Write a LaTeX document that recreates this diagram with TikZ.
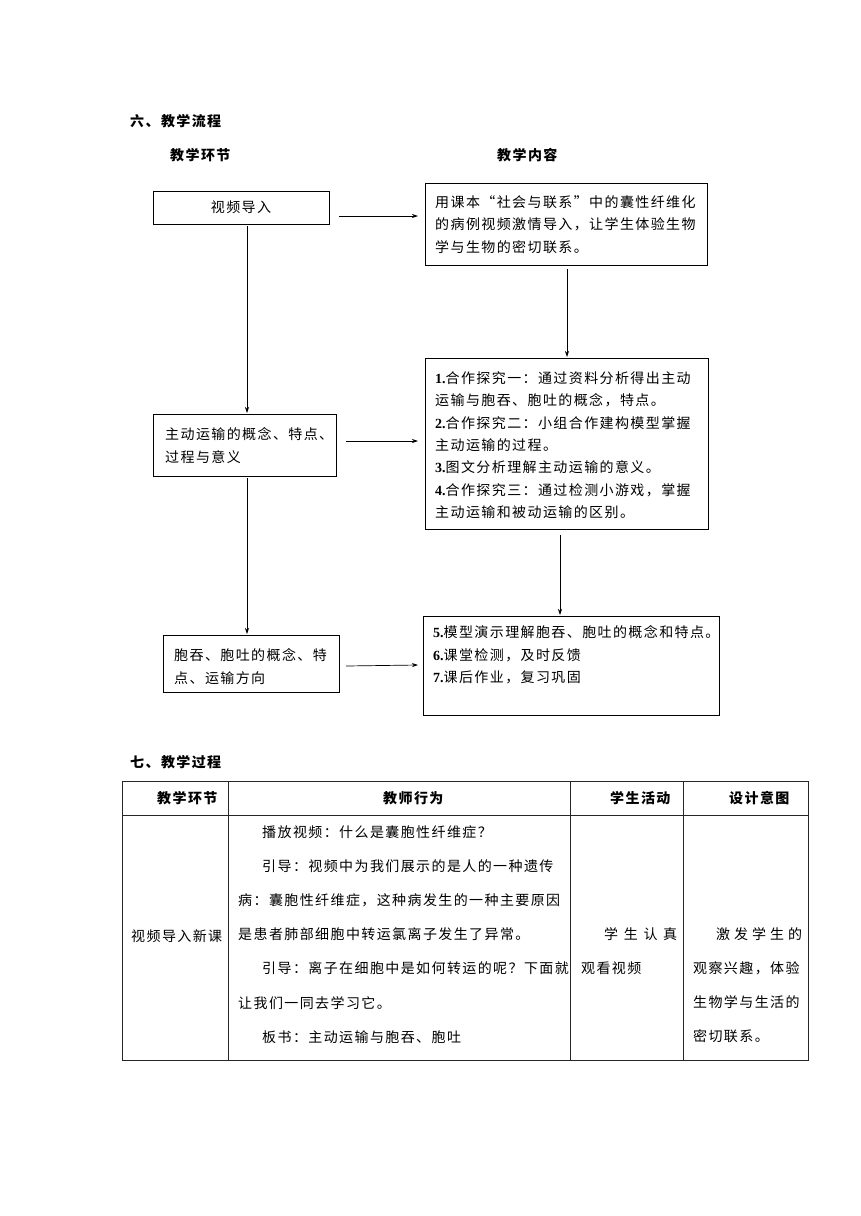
\documentclass[tikz,border=0pt]{standalone}
\usepackage{fontspec}
\setmainfont{Liberation Serif}
\newfontfamily\cjk[LetterSpace=10]{Noto Sans CJK SC}
\newfontfamily\tnr{Liberation Serif}
\newcommand\nb[1]{{\tnr\bfseries #1}}
\usetikzlibrary{arrows.meta}
\begin{document}
\begin{tikzpicture}[x=1pt,y=-1pt,
  font=\cjk\fontsize{14}{22.3}\selectfont,
  box/.style={draw=black, line width=1pt, anchor=north west, inner sep=0pt, outer sep=0pt},
  txt/.style={anchor=north west, inner sep=0pt, align=left},
  lbl/.style={anchor=west, inner sep=0pt},
  arr/.style={-{Stealth[length=6pt,width=4pt]}, line width=0.7pt},
  grid/.style={line width=0.9pt, draw=black!85}]
\useasboundingbox[fill=white] (0,0) rectangle (860,1216);

% ---- titles
\node[lbl] (t1) at (130,121) {\bfseries 六、教学流程};
\node[lbl] (h1) at (170,155) {\bfseries 教学环节};
\node[lbl] (h2) at (497,155) {\bfseries 教学内容};

% ---- boxes
\node[box, minimum width=176pt, minimum height=33pt] (b1) at (153,191) {};
\node (b1t) at (b1.center) {视频导入};

\node[box, minimum width=282pt, minimum height=82pt] (b2) at (425,183) {};
\node[txt] (b2t) at (435,195.5) {用课本“社会与联系”中的囊性纤维化\\的病例视频激情导入，让学生体验生物\\学与生物的密切联系。};

\node[box, minimum width=283pt, minimum height=171pt] (b3) at (425,358) {};
\node[txt] (b3t) at (435,371.5) {\nb{1.}合作探究一：通过资料分析得出主动\\运输与胞吞、胞吐的概念，特点。\\\nb{2.}合作探究二：小组合作建构模型掌握\\主动运输的过程。\\\nb{3.}图文分析理解主动运输的意义。\\\nb{4.}合作探究三：通过检测小游戏，掌握\\主动运输和被动运输的区别。};

\node[box, minimum width=183pt, minimum height=62pt] (b4) at (153,414) {};
\node[txt] (b4t) at (165,427.5) {主动运输的概念、特点、\\过程与意义};

\node[box, minimum width=176pt, minimum height=57pt] (b5) at (163,635) {};
\node[txt] (b5t) at (174,648.5) {胞吞、胞吐的概念、特\\点、运输方向};

\node[box, minimum width=296pt, minimum height=99pt] (b6) at (423,616) {};
\node[txt] (b6t) at (433,625.5) {\nb{5.}模型演示理解胞吞、胞吐的概念和特点。\\\nb{6.}课堂检测，及时反馈\\\nb{7.}课后作业，复习巩固};

% ---- connector end points
\coordinate (a1s) at (339,216); \coordinate (a1e) at (418,216);
\coordinate (a2s) at (567,269); \coordinate (a2e) at (567,357);
\coordinate (a3s) at (247,226); \coordinate (a3e) at (247,413);
\coordinate (a4s) at (346,441); \coordinate (a4e) at (418,441);
\coordinate (a5s) at (247,478); \coordinate (a5e) at (247,634);
\coordinate (a6s) at (560,535); \coordinate (a6e) at (560,615);
\coordinate (a7s) at (346,666); \coordinate (a7e) at (418,665);
\draw[arr] (a1s) -- (a1e);
\draw[arr] (a2s) -- (a2e);
\draw[arr] (a3s) -- (a3e);
\draw[arr] (a4s) -- (a4e);
\draw[arr] (a5s) -- (a5e);
\draw[arr] (a6s) -- (a6e);
\draw[arr] (a7s) -- (a7e);

% ---- table
\node[lbl] (t2) at (130,762) {\bfseries 七、教学过程};
\draw[grid] (122,781) rectangle (808,1060);
\draw[grid] (122,815) -- (808,815);
\draw[grid] (228,781) -- (228,1060);
\draw[grid] (570,781) -- (570,1060);
\draw[grid] (683,781) -- (683,1060);

\node[lbl] (th1) at (157,798) {\bfseries 教学环节};
\node[lbl] (th2) at (383,798) {\bfseries 教师行为};
\node[lbl] (th3) at (610,798) {\bfseries 学生活动};
\node[lbl] (th4) at (729,798) {\bfseries 设计意图};

\node[lbl] (c1) at (131,936) {视频导入新课};
\node[txt, font=\cjk\fontsize{14}{34.1}\selectfont] (c2) at (238,825.5) {\hspace*{24pt}播放视频：什么是囊胞性纤维症？\\\hspace*{24pt}引导：视频中为我们展示的是人的一种遗传\\病：囊胞性纤维症，这种病发生的一种主要原因\\是患者肺部细胞中转运氯离子发生了异常。\\\hspace*{24pt}引导：离子在细胞中是如何转运的呢？下面就\\让我们一同去学习它。\\\hspace*{24pt}板书：主动运输与胞吞、胞吐};
\node[txt, font=\cjk\fontsize{14}{34.1}\selectfont] (c3) at (581,927.5) {\hspace*{23pt}\hbox to 73pt{学\hfill 生\hfill 认\hfill 真}\\观看视频};
\node[txt, font=\cjk\fontsize{14}{34.1}\selectfont] (c4) at (693,927.5) {\hspace*{23pt}\hbox to 86pt{激\hfill 发\hfill 学\hfill 生\hfill 的}\\观察兴趣，体验\\生物学与生活的\\密切联系。};
\end{tikzpicture}
\end{document}
